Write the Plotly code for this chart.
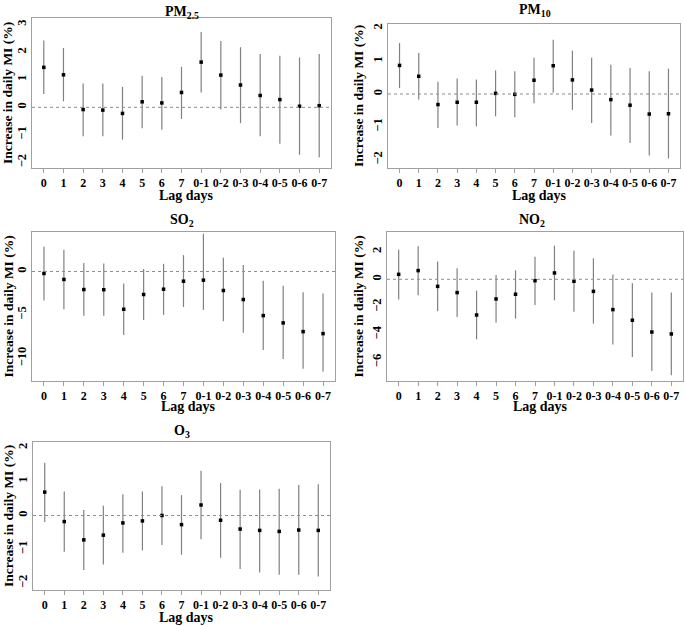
import plotly.graph_objects as go

lags = ["0", "1", "2", "3", "4", "5", "6", "7", "0-1", "0-2", "0-3", "0-4", "0-5", "0-6", "0-7"]

pm25_est = [1.45, 1.18, -0.08, -0.10, -0.22, 0.20, 0.16, 0.54, 1.64, 1.17, 0.81, 0.43, 0.28, 0.04, 0.06]
pm25_lo = [0.48, 0.22, -1.05, -1.05, -1.17, -0.76, -0.81, -0.42, 0.54, -0.08, -0.57, -1.05, -1.32, -1.72, -1.81]
pm25_hi = [2.42, 2.15, 0.86, 0.86, 0.74, 1.15, 1.10, 1.47, 2.73, 2.41, 2.18, 1.93, 1.87, 1.81, 1.93]

pm10_est = [0.87, 0.54, -0.32, -0.25, -0.25, 0.02, -0.01, 0.42, 0.86, 0.43, 0.12, -0.17, -0.34, -0.61, -0.60]
pm10_lo = [0.18, -0.17, -1.03, -0.96, -0.98, -0.68, -0.71, -0.28, 0.04, -0.48, -0.88, -1.26, -1.49, -1.87, -1.96]
pm10_hi = [1.55, 1.25, 0.37, 0.47, 0.44, 0.72, 0.69, 1.10, 1.65, 1.32, 1.10, 0.89, 0.79, 0.69, 0.77]

so2_est = [-0.23, -0.92, -2.08, -2.10, -4.35, -2.65, -2.04, -1.12, -1.00, -2.19, -3.23, -5.08, -5.92, -6.92, -7.15]
so2_lo = [-3.35, -4.35, -5.10, -5.10, -7.30, -5.58, -5.00, -4.08, -4.42, -5.73, -7.04, -9.04, -10.08, -11.19, -11.54]
so2_hi = [2.85, 2.50, 0.96, 0.92, -1.38, 0.27, 0.88, 1.88, 4.35, 1.58, 0.73, -1.08, -1.65, -2.38, -2.54]

no2_est = [0.36, 0.63, -0.51, -0.96, -2.58, -1.42, -1.08, -0.10, 0.46, -0.14, -0.87, -2.19, -2.96, -3.81, -3.95]
no2_lo = [-1.45, -1.16, -2.31, -2.72, -4.34, -3.13, -2.84, -1.86, -1.52, -2.34, -3.20, -4.72, -5.61, -6.63, -6.94]
no2_hi = [2.14, 2.39, 1.28, 0.80, -0.82, 0.31, 0.65, 1.64, 2.43, 2.07, 1.52, 0.34, -0.29, -0.96, -0.96]

o3_est = [0.69, -0.18, -0.72, -0.58, -0.22, -0.16, 0.00, -0.27, 0.31, -0.14, -0.40, -0.44, -0.47, -0.43, -0.44]
o3_lo = [-0.19, -1.07, -1.61, -1.45, -1.10, -1.03, -0.87, -1.16, -0.70, -1.25, -1.58, -1.68, -1.75, -1.75, -1.80]
o3_hi = [1.56, 0.71, 0.16, 0.29, 0.63, 0.71, 0.86, 0.60, 1.32, 0.96, 0.76, 0.77, 0.79, 0.90, 0.92]

W, H = 685, 626
FONT = "Liberation Serif"

panels = [
    ("PM<sub>2.5</sub>", pm25_est, pm25_lo, pm25_hi, (32, 331, 18, 168), [-2.2, 3.24], [-2, -1, 0, 1, 2, 3], (182, 12), 8, 195),
    ("PM<sub>10</sub>", pm10_est, pm10_lo, pm10_hi, (388, 680, 24, 168), [-2.25, 2.13], [-2, -1, 0, 1, 2], (535, 11), 358, 195),
    ("SO<sub>2</sub>", so2_est, so2_lo, so2_hi, (32, 335, 232, 381), [-12.6, 4.54], [-10, -5, 0], (182, 220), 8, 407),
    ("NO<sub>2</sub>", no2_est, no2_lo, no2_hi, (387, 683, 232, 381), [-7.35, 3.42], [-6, -4, -2, 0, 2], (532, 220), 358, 407),
    ("O<sub>3</sub>", o3_est, o3_lo, o3_hi, (33, 330, 442, 590), [-2.2, 2.17], [-2, -1, 0, 1, 2], (182, 431), 8, 617),
]

fig = go.Figure()
annotations = []
shapes = []
for i, (name, est, lo, hi, box, yr, tv, tpos, ytx, lagy) in enumerate(panels):
    k = "" if i == 0 else str(i + 1)
    x0, x1, yt, yb = box
    plus = [h - e for h, e in zip(hi, est)]
    minus = [e - l for e, l in zip(est, lo)]
    fig.add_trace(go.Scatter(
        x=lags, y=est, mode="markers",
        marker=dict(symbol="square", size=3.5, color="black"),
        error_y=dict(type="data", array=plus, arrayminus=minus, visible=True,
                     width=0, thickness=1.2, color="#808080"),
        xaxis="x" + k, yaxis="y" + k, showlegend=False, cliponaxis=False,
    ))
    fig.update_layout(**{
        "xaxis" + k: dict(
            domain=[x0 / W, x1 / W], anchor="y" + k, type="category",
            range=[-0.6, 14.6], showgrid=False, zeroline=False,
            showline=True, mirror=True, linecolor="#a0a0a0", linewidth=1,
            ticks="outside", ticklen=4, tickcolor="#a0a0a0", tickangle=0,
            tickfont=dict(family=FONT, size=12, color="black", weight="bold"),
        ),
        "yaxis" + k: dict(
            domain=[1 - yb / H, 1 - yt / H], anchor="x" + k,
            range=yr, tickvals=tv, showgrid=False, zeroline=False,
            showline=True, mirror=True, linecolor="#a0a0a0", linewidth=1,
            ticks="", tickangle=-90,
            tickfont=dict(family=FONT, size=12.5, color="black", weight="bold"),
        ),
    })
    shapes.append(dict(type="line", xref="x" + k + " domain", yref="y" + k,
                       x0=0, x1=1, y0=0, y1=0,
                       line=dict(color="#8c8c8c", width=1, dash="dot")))
    annotations.append(dict(text="<b>" + name + "</b>", x=tpos[0] / W, y=1 - tpos[1] / H,
                            xref="paper", yref="paper", showarrow=False,
                            xanchor="center", yanchor="middle",
                            font=dict(family=FONT, size=14, color="black")))
    annotations.append(dict(text="<b>Increase in daily MI (%)</b>", x=ytx / W,
                            y=1 - ((yt + yb) / 2) / H, xref="paper", yref="paper",
                            showarrow=False, textangle=-90, xanchor="center", yanchor="middle",
                            font=dict(family=FONT, size=13.5, color="black")))
    annotations.append(dict(text="<b>Lag days</b>", x=((x0 + x1) / 2 + 5) / W, y=1 - lagy / H,
                            xref="paper", yref="paper", showarrow=False,
                            xanchor="center", yanchor="middle",
                            font=dict(family=FONT, size=14, color="black")))

fig.update_layout(
    width=W, height=H, margin=dict(l=0, r=0, t=0, b=0),
    paper_bgcolor="white", plot_bgcolor="white",
    annotations=annotations, shapes=shapes,
)
fig.write_html("out.html", config={"displayModeBar": False},
               post_script="document.body.style.margin='0';document.body.style.overflow='hidden';")
